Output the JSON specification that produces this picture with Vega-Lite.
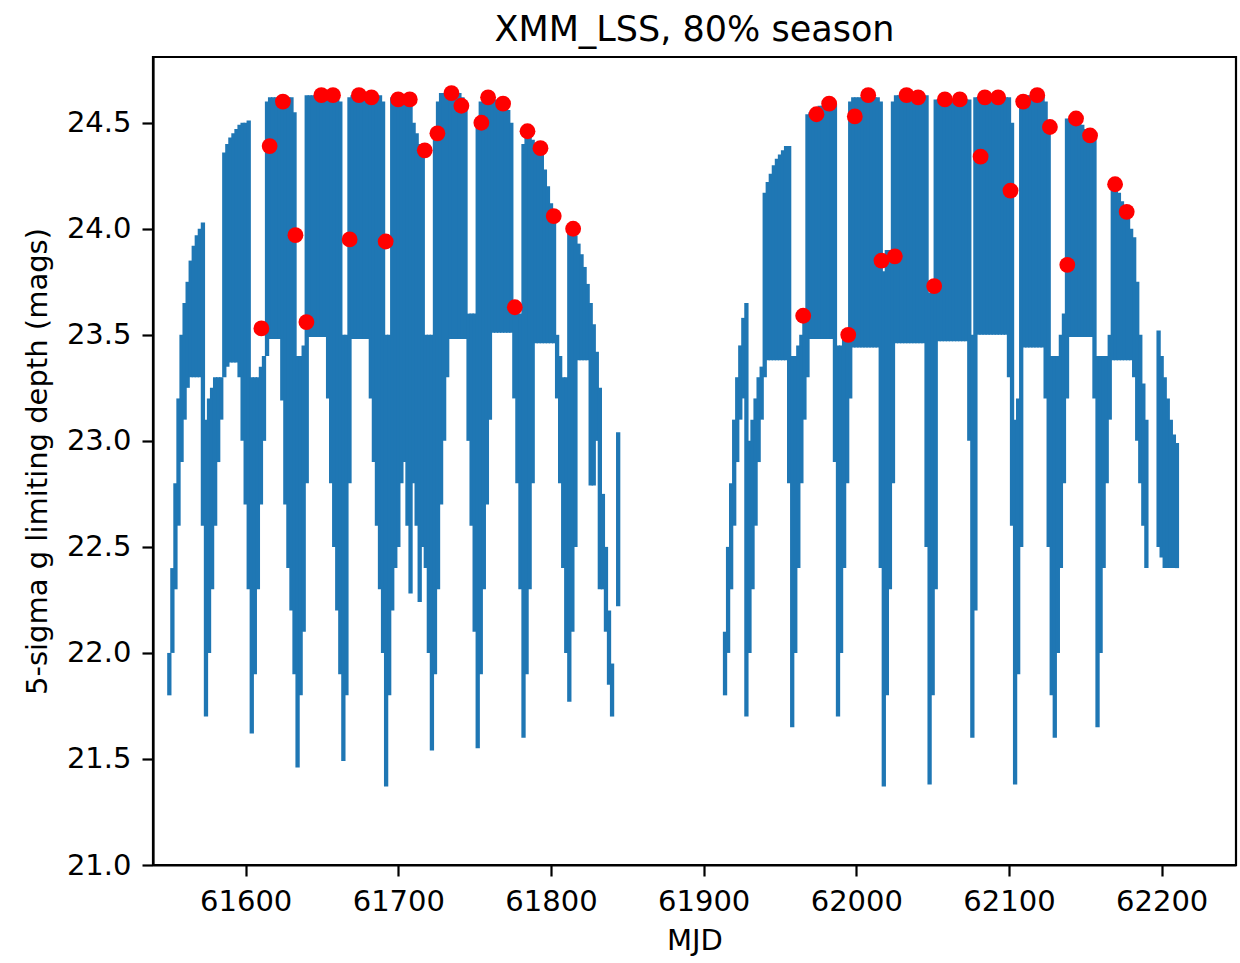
{
  "$schema": "https://vega.github.io/schema/vega-lite/v6.json",
  "autosize": {"type": "none"},
  "width": 1083,
  "height": 808,
  "padding": {"left": 153, "top": 57, "right": 4, "bottom": 98},
  "background": "white",
  "config": {
    "font": "DejaVu Sans",
    "view": {"stroke": "black", "strokeWidth": 2.2},
    "axis": {"grid": false, "domainColor": "black", "domainWidth": 2.2, "tickColor": "black", "tickWidth": 2.2, "tickSize": 11, "labelFontSize": 29, "labelColor": "black", "titleFontSize": 29, "titleFontWeight": "normal", "titleColor": "black", "labelPadding": 11}
  },
  "title": {"text": "XMM_LSS, 80% season", "fontSize": 35, "fontWeight": "normal", "color": "black", "baseline": "bottom", "offset": 12, "dy": 38},
  "datasets": {
    "depth": [
      {"t":61550,"lo":21.8,"hi":22.0},{"t":61552,"lo":22.0,"hi":22.4},{"t":61554,"lo":22.3,"hi":22.8},{"t":61556,"lo":22.6,"hi":23.2},{"t":61558,"lo":22.9,"hi":23.5},{"t":61560,"lo":23.1,"hi":23.65},{"t":61562,"lo":23.25,"hi":23.75},{"t":61564,"lo":23.3,"hi":23.85},{"t":61566,"lo":23.3,"hi":23.92},{"t":61568,"lo":23.3,"hi":23.97},{"t":61570,"lo":23.3,"hi":24.0},{"t":61572,"lo":22.6,"hi":24.03},
      {"t":61574,"lo":21.7,"hi":23.1},{"t":61576,"lo":22.0,"hi":23.2},{"t":61578,"lo":22.3,"hi":23.25},{"t":61580,"lo":22.6,"hi":23.3},{"t":61582,"lo":22.9,"hi":23.3},{"t":61584,"lo":23.1,"hi":23.3},
      {"t":61586,"lo":23.3,"hi":24.36},{"t":61588,"lo":23.35,"hi":24.4},{"t":61590,"lo":23.37,"hi":24.43},{"t":61592,"lo":23.37,"hi":24.45},{"t":61594,"lo":23.37,"hi":24.47},{"t":61596,"lo":23.3,"hi":24.49},{"t":61598,"lo":23.0,"hi":24.5},{"t":61600,"lo":22.7,"hi":24.5},{"t":61602,"lo":22.3,"hi":24.51},
      {"t":61604,"lo":21.62,"hi":23.3},{"t":61606,"lo":21.9,"hi":23.3},{"t":61608,"lo":22.3,"hi":23.3},{"t":61610,"lo":22.7,"hi":23.35},{"t":61612,"lo":23.0,"hi":23.4},
      {"t":61614,"lo":23.4,"hi":24.6},{"t":61616,"lo":23.48,"hi":24.62},{"t":61618,"lo":23.48,"hi":24.62},{"t":61620,"lo":23.48,"hi":24.62},{"t":61622,"lo":23.48,"hi":24.62},{"t":61624,"lo":23.19,"hi":24.62},{"t":61626,"lo":22.7,"hi":24.62},{"t":61628,"lo":22.4,"hi":24.62},{"t":61630,"lo":22.2,"hi":24.62},{"t":61632,"lo":21.9,"hi":24.55},
      {"t":61634,"lo":21.46,"hi":23.4},{"t":61636,"lo":21.8,"hi":23.4},{"t":61638,"lo":22.1,"hi":23.45},
      {"t":61640,"lo":22.8,"hi":24.63},{"t":61642,"lo":23.49,"hi":24.63},{"t":61644,"lo":23.49,"hi":24.63},{"t":61646,"lo":23.49,"hi":24.63},{"t":61648,"lo":23.49,"hi":24.63},{"t":61650,"lo":23.49,"hi":24.63},{"t":61652,"lo":23.49,"hi":24.63},{"t":61654,"lo":23.2,"hi":24.63},{"t":61656,"lo":22.8,"hi":24.63},{"t":61658,"lo":22.5,"hi":24.63},{"t":61660,"lo":22.2,"hi":24.63},{"t":61662,"lo":21.9,"hi":24.6},
      {"t":61664,"lo":21.49,"hi":23.5},{"t":61666,"lo":21.8,"hi":23.5},
      {"t":61668,"lo":22.8,"hi":24.62},{"t":61670,"lo":23.48,"hi":24.63},{"t":61672,"lo":23.48,"hi":24.63},{"t":61674,"lo":23.48,"hi":24.63},{"t":61676,"lo":23.48,"hi":24.63},{"t":61678,"lo":23.48,"hi":24.63},{"t":61680,"lo":23.48,"hi":24.63},{"t":61682,"lo":23.2,"hi":24.63},{"t":61684,"lo":22.9,"hi":24.63},{"t":61686,"lo":22.6,"hi":24.63},{"t":61688,"lo":22.3,"hi":24.63},{"t":61690,"lo":22.0,"hi":24.6},
      {"t":61692,"lo":21.37,"hi":23.5},{"t":61694,"lo":21.8,"hi":23.5},
      {"t":61696,"lo":22.2,"hi":24.62},{"t":61698,"lo":22.4,"hi":24.62},{"t":61700,"lo":22.5,"hi":24.62},{"t":61702,"lo":22.8,"hi":24.62},{"t":61704,"lo":22.9,"hi":24.62},{"t":61706,"lo":22.6,"hi":24.62},{"t":61708,"lo":22.28,"hi":24.6},{"t":61710,"lo":22.8,"hi":24.5},{"t":61712,"lo":22.6,"hi":24.45},{"t":61714,"lo":22.24,"hi":24.4},{"t":61716,"lo":22.5,"hi":24.35},
      {"t":61718,"lo":22.4,"hi":23.5},{"t":61720,"lo":22.0,"hi":23.5},{"t":61722,"lo":21.54,"hi":23.5},
      {"t":61724,"lo":21.9,"hi":24.45},{"t":61726,"lo":22.3,"hi":24.6},{"t":61728,"lo":22.7,"hi":24.64},{"t":61730,"lo":23.0,"hi":24.64},{"t":61732,"lo":23.3,"hi":24.64},{"t":61734,"lo":23.48,"hi":24.64},{"t":61736,"lo":23.48,"hi":24.64},{"t":61738,"lo":23.48,"hi":24.64},{"t":61740,"lo":23.48,"hi":24.64},{"t":61742,"lo":23.48,"hi":24.62},{"t":61744,"lo":23.48,"hi":24.6},
      {"t":61746,"lo":23.0,"hi":23.6},{"t":61748,"lo":22.6,"hi":23.6},{"t":61750,"lo":22.1,"hi":23.6},
      {"t":61752,"lo":21.55,"hi":24.5},{"t":61754,"lo":21.9,"hi":24.6},{"t":61756,"lo":22.3,"hi":24.62},{"t":61758,"lo":22.7,"hi":24.62},{"t":61760,"lo":23.1,"hi":24.62},{"t":61762,"lo":23.51,"hi":24.62},{"t":61764,"lo":23.51,"hi":24.61},{"t":61766,"lo":23.51,"hi":24.6},{"t":61768,"lo":23.51,"hi":24.6},{"t":61770,"lo":23.51,"hi":24.58},{"t":61772,"lo":23.51,"hi":24.56},{"t":61774,"lo":23.51,"hi":24.5},
      {"t":61776,"lo":23.2,"hi":23.6},{"t":61778,"lo":22.8,"hi":23.6},{"t":61780,"lo":22.3,"hi":23.6},
      {"t":61782,"lo":21.6,"hi":24.4},{"t":61784,"lo":21.9,"hi":24.46},{"t":61786,"lo":22.3,"hi":24.45},{"t":61788,"lo":22.8,"hi":24.42},{"t":61790,"lo":23.46,"hi":24.4},{"t":61792,"lo":23.46,"hi":24.38},{"t":61794,"lo":23.46,"hi":24.35},{"t":61796,"lo":23.46,"hi":24.28},{"t":61798,"lo":23.46,"hi":24.2},{"t":61800,"lo":23.46,"hi":24.12},{"t":61802,"lo":23.46,"hi":24.06},
      {"t":61804,"lo":23.2,"hi":23.5},{"t":61806,"lo":22.8,"hi":23.4},{"t":61808,"lo":22.4,"hi":23.3},{"t":61810,"lo":22.0,"hi":23.3},
      {"t":61812,"lo":21.77,"hi":24.0},{"t":61814,"lo":22.1,"hi":24.0},{"t":61816,"lo":22.5,"hi":23.97},{"t":61818,"lo":23.38,"hi":23.93},{"t":61820,"lo":23.38,"hi":23.88},{"t":61822,"lo":23.38,"hi":23.82},{"t":61824,"lo":23.38,"hi":23.74},{"t":61826,"lo":22.79,"hi":23.65},{"t":61828,"lo":22.79,"hi":23.55},{"t":61830,"lo":23.0,"hi":23.42},{"t":61832,"lo":22.3,"hi":23.25},{"t":61834,"lo":22.3,"hi":22.75},{"t":61836,"lo":22.1,"hi":22.5},{"t":61838,"lo":21.85,"hi":22.2},{"t":61840,"lo":21.7,"hi":21.95},{"t":61844,"lo":22.22,"hi":23.04},
      {"t":61914,"lo":21.8,"hi":22.1},{"t":61916,"lo":22.0,"hi":22.5},{"t":61918,"lo":22.3,"hi":22.8},{"t":61920,"lo":22.6,"hi":23.1},{"t":61922,"lo":22.9,"hi":23.3},{"t":61924,"lo":23.1,"hi":23.45},{"t":61926,"lo":23.2,"hi":23.58},{"t":61928,"lo":21.7,"hi":23.65},
      {"t":61930,"lo":22.0,"hi":23.0},{"t":61932,"lo":22.3,"hi":23.1},{"t":61934,"lo":22.6,"hi":23.2},{"t":61936,"lo":22.9,"hi":23.3},{"t":61938,"lo":23.1,"hi":23.35},
      {"t":61940,"lo":23.3,"hi":24.17},{"t":61942,"lo":23.38,"hi":24.22},{"t":61944,"lo":23.38,"hi":24.26},{"t":61946,"lo":23.38,"hi":24.3},{"t":61948,"lo":23.38,"hi":24.33},{"t":61950,"lo":23.38,"hi":24.35},{"t":61952,"lo":23.38,"hi":24.37},{"t":61954,"lo":23.38,"hi":24.39},{"t":61956,"lo":22.8,"hi":24.39},
      {"t":61958,"lo":21.65,"hi":23.4},{"t":61960,"lo":22.0,"hi":23.4},{"t":61962,"lo":22.4,"hi":23.45},{"t":61964,"lo":22.8,"hi":23.5},{"t":61966,"lo":23.1,"hi":23.6},
      {"t":61968,"lo":23.3,"hi":24.54},{"t":61970,"lo":23.48,"hi":24.55},{"t":61972,"lo":23.48,"hi":24.56},{"t":61974,"lo":23.48,"hi":24.57},{"t":61976,"lo":23.48,"hi":24.58},{"t":61978,"lo":23.48,"hi":24.58},{"t":61980,"lo":23.48,"hi":24.59},{"t":61982,"lo":23.48,"hi":24.59},{"t":61984,"lo":23.48,"hi":24.59},{"t":61986,"lo":22.9,"hi":24.59},
      {"t":61988,"lo":21.7,"hi":23.45},{"t":61990,"lo":22.0,"hi":23.45},{"t":61992,"lo":22.4,"hi":23.5},{"t":61994,"lo":22.8,"hi":23.5},
      {"t":61996,"lo":23.2,"hi":24.6},{"t":61998,"lo":23.44,"hi":24.62},{"t":62000,"lo":23.44,"hi":24.62},{"t":62002,"lo":23.44,"hi":24.62},{"t":62004,"lo":23.44,"hi":24.62},{"t":62006,"lo":23.44,"hi":24.62},{"t":62008,"lo":23.44,"hi":24.62},{"t":62010,"lo":23.44,"hi":24.62},{"t":62012,"lo":23.44,"hi":24.62},{"t":62014,"lo":23.44,"hi":24.62},{"t":62016,"lo":22.4,"hi":24.6},
      {"t":62018,"lo":21.37,"hi":23.8},{"t":62020,"lo":21.8,"hi":23.9},{"t":62022,"lo":22.3,"hi":23.9},
      {"t":62024,"lo":22.8,"hi":24.6},{"t":62026,"lo":23.46,"hi":24.63},{"t":62028,"lo":23.46,"hi":24.63},{"t":62030,"lo":23.46,"hi":24.63},{"t":62032,"lo":23.46,"hi":24.63},{"t":62034,"lo":23.46,"hi":24.63},{"t":62036,"lo":23.46,"hi":24.63},{"t":62038,"lo":23.46,"hi":24.63},{"t":62040,"lo":23.46,"hi":24.63},{"t":62042,"lo":23.46,"hi":24.63},{"t":62044,"lo":23.46,"hi":24.63},{"t":62046,"lo":22.5,"hi":24.63},
      {"t":62048,"lo":21.38,"hi":23.7},{"t":62050,"lo":21.8,"hi":23.7},
      {"t":62052,"lo":22.3,"hi":24.61},{"t":62054,"lo":23.47,"hi":24.61},{"t":62056,"lo":23.47,"hi":24.61},{"t":62058,"lo":23.47,"hi":24.61},{"t":62060,"lo":23.47,"hi":24.61},{"t":62062,"lo":23.47,"hi":24.61},{"t":62064,"lo":23.47,"hi":24.61},{"t":62066,"lo":23.47,"hi":24.61},{"t":62068,"lo":23.47,"hi":24.61},{"t":62070,"lo":23.47,"hi":24.61},{"t":62072,"lo":23.47,"hi":24.61},{"t":62074,"lo":23.0,"hi":24.61},
      {"t":62076,"lo":21.6,"hi":23.5},
      {"t":62078,"lo":22.2,"hi":24.62},{"t":62080,"lo":23.5,"hi":24.62},{"t":62082,"lo":23.5,"hi":24.62},{"t":62084,"lo":23.5,"hi":24.62},{"t":62086,"lo":23.5,"hi":24.62},{"t":62088,"lo":23.5,"hi":24.62},{"t":62090,"lo":23.5,"hi":24.62},{"t":62092,"lo":23.5,"hi":24.62},{"t":62094,"lo":23.5,"hi":24.62},{"t":62096,"lo":23.5,"hi":24.62},{"t":62098,"lo":23.5,"hi":24.62},{"t":62100,"lo":23.3,"hi":24.62},{"t":62102,"lo":22.6,"hi":24.5},
      {"t":62104,"lo":21.38,"hi":23.1},{"t":62106,"lo":21.9,"hi":23.2},
      {"t":62108,"lo":22.5,"hi":24.6},{"t":62110,"lo":23.44,"hi":24.63},{"t":62112,"lo":23.44,"hi":24.63},{"t":62114,"lo":23.44,"hi":24.63},{"t":62116,"lo":23.44,"hi":24.63},{"t":62118,"lo":23.44,"hi":24.63},{"t":62120,"lo":23.44,"hi":24.63},{"t":62122,"lo":23.44,"hi":24.63},{"t":62124,"lo":23.2,"hi":24.6},{"t":62126,"lo":22.5,"hi":24.5},
      {"t":62128,"lo":21.8,"hi":23.4},{"t":62130,"lo":21.6,"hi":23.4},{"t":62132,"lo":22.0,"hi":23.4},{"t":62134,"lo":22.4,"hi":23.5},{"t":62136,"lo":22.8,"hi":23.6},
      {"t":62138,"lo":23.2,"hi":24.52},{"t":62140,"lo":23.49,"hi":24.52},{"t":62142,"lo":23.49,"hi":24.52},{"t":62144,"lo":23.49,"hi":24.52},{"t":62146,"lo":23.49,"hi":24.5},{"t":62148,"lo":23.49,"hi":24.49},{"t":62150,"lo":23.49,"hi":24.47},{"t":62152,"lo":23.49,"hi":24.45},{"t":62154,"lo":23.49,"hi":24.44},{"t":62156,"lo":23.2,"hi":24.44},
      {"t":62158,"lo":21.65,"hi":23.4},{"t":62160,"lo":22.0,"hi":23.4},{"t":62162,"lo":22.4,"hi":23.4},{"t":62164,"lo":22.8,"hi":23.4},{"t":62166,"lo":23.1,"hi":23.5},
      {"t":62168,"lo":23.38,"hi":24.21},{"t":62170,"lo":23.38,"hi":24.2},{"t":62172,"lo":23.38,"hi":24.17},{"t":62174,"lo":23.38,"hi":24.13},{"t":62176,"lo":23.38,"hi":24.09},{"t":62178,"lo":23.38,"hi":24.05},{"t":62180,"lo":23.38,"hi":24.0},{"t":62182,"lo":23.3,"hi":23.96},{"t":62184,"lo":23.0,"hi":23.75},{"t":62186,"lo":22.8,"hi":23.5},{"t":62188,"lo":22.6,"hi":23.27},{"t":62190,"lo":22.4,"hi":23.1},
      {"t":62198,"lo":22.5,"hi":23.52},{"t":62200,"lo":22.45,"hi":23.4},{"t":62202,"lo":22.4,"hi":23.3},{"t":62204,"lo":22.4,"hi":23.2},{"t":62206,"lo":22.4,"hi":23.1},{"t":62208,"lo":22.4,"hi":23.03},{"t":62210,"lo":22.4,"hi":22.99}
    ],
    "picks": [
      {"t":61610.3,"m":23.53},{"t":61615.7,"m":24.39},{"t":61624.4,"m":24.60},{"t":61632.6,"m":23.97},{"t":61639.8,"m":23.56},{"t":61649.6,"m":24.63},{"t":61657.2,"m":24.63},{"t":61668.1,"m":23.95},{"t":61674.2,"m":24.63},{"t":61682.4,"m":24.62},{"t":61691.7,"m":23.94},{"t":61699.9,"m":24.61},{"t":61707.5,"m":24.61},{"t":61717.3,"m":24.37},{"t":61725.6,"m":24.45},{"t":61734.8,"m":24.64},{"t":61741.3,"m":24.58},{"t":61754.4,"m":24.50},{"t":61758.8,"m":24.62},{"t":61768.6,"m":24.59},{"t":61776.3,"m":23.63},{"t":61784.6,"m":24.46},{"t":61793.1,"m":24.38},{"t":61801.8,"m":24.06},{"t":61814.5,"m":24.00},
      {"t":61965.2,"m":23.59},{"t":61973.9,"m":24.54},{"t":61982.2,"m":24.59},{"t":61994.7,"m":23.50},{"t":61999.0,"m":24.53},{"t":62007.8,"m":24.63},{"t":62016.5,"m":23.85},{"t":62025.2,"m":23.87},{"t":62032.9,"m":24.63},{"t":62040.5,"m":24.62},{"t":62051.0,"m":23.73},{"t":62058.0,"m":24.61},{"t":62067.8,"m":24.61},{"t":62081.4,"m":24.34},{"t":62084.2,"m":24.62},{"t":62092.9,"m":24.62},{"t":62101.0,"m":24.18},{"t":62109.3,"m":24.60},{"t":62118.5,"m":24.63},{"t":62126.8,"m":24.48},{"t":62138.2,"m":23.83},{"t":62143.9,"m":24.52},{"t":62153.1,"m":24.44},{"t":62169.5,"m":24.21},{"t":62177.1,"m":24.08}
    ]
  },
  "layer": [
    {
      "data": {"name": "depth"},
      "mark": {"type": "rule", "color": "#1f77b4", "strokeWidth": 4.3, "strokeCap": "butt"},
      "encoding": {
        "x": {"field": "t", "type": "quantitative", "scale": {"domain": [61539.3, 62248.7], "nice": false, "zero": false},
              "axis": {"title": "MJD", "values": [61600, 61700, 61800, 61900, 62000, 62100, 62200], "format": "d", "titlePadding": 10}},
        "y": {"field": "lo", "type": "quantitative", "scale": {"domain": [21.0, 24.81], "nice": false, "zero": false},
              "axis": {"title": "5-sigma g limiting depth (mags)", "values": [21.0, 21.5, 22.0, 22.5, 23.0, 23.5, 24.0, 24.5], "format": ".1f", "titlePadding": 14}},
        "y2": {"field": "hi"}
      }
    },
    {
      "data": {"name": "picks"},
      "mark": {"type": "point", "filled": true, "color": "#ff0000", "opacity": 1, "size": 250},
      "encoding": {
        "x": {"field": "t", "type": "quantitative"},
        "y": {"field": "m", "type": "quantitative"}
      }
    }
  ]
}
